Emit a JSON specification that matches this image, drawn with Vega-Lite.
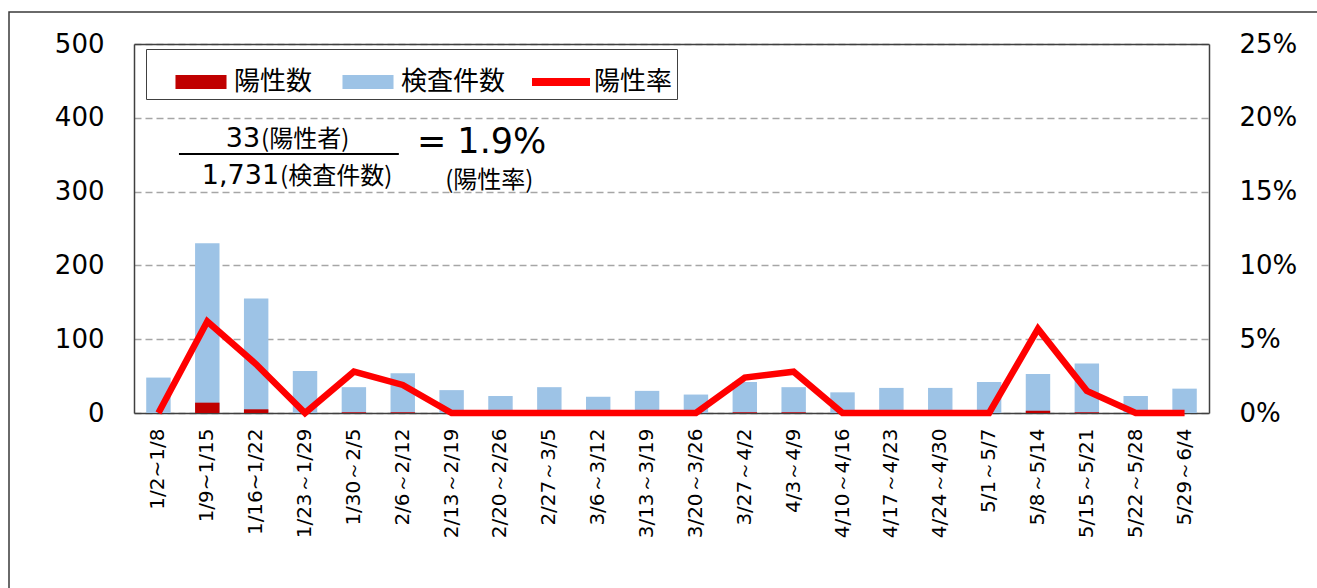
{
  "$schema": "https://vega.github.io/schema/vega-lite/v6.json",
  "width": 1320,
  "height": 600,
  "autosize": {"type": "none"},
  "padding": {"left": 9, "top": 12, "right": 0, "bottom": 0},
  "background": "white",
  "config": {
    "view": {"stroke": "#3a3a3a", "strokeWidth": 1.5},
    "font": "DejaVu Sans",
    "axis": {
      "labelFont": "DejaVu Sans",
      "labelColor": "#000000",
      "ticks": false,
      "title": null,
      "domainColor": "#404040",
      "domainWidth": 1.5,
      "grid": false
    }
  },
  "data": {
    "values": [
      {"week": "1/2~1/8", "tests": 48, "positives": 0, "rate": 0},
      {"week": "1/9~1/15", "tests": 230, "positives": 14, "rate": 0.062},
      {"week": "1/16~1/22", "tests": 155, "positives": 5, "rate": 0.033},
      {"week": "1/23～1/29", "tests": 57, "positives": 0, "rate": 0},
      {"week": "1/30～2/5", "tests": 35, "positives": 1, "rate": 0.028},
      {"week": "2/6～2/12", "tests": 54, "positives": 1, "rate": 0.019},
      {"week": "2/13～2/19", "tests": 31, "positives": 0, "rate": 0},
      {"week": "2/20～2/26", "tests": 23, "positives": 0, "rate": 0},
      {"week": "2/27～3/5", "tests": 35, "positives": 0, "rate": 0},
      {"week": "3/6～3/12", "tests": 22, "positives": 0, "rate": 0},
      {"week": "3/13～3/19", "tests": 30, "positives": 0, "rate": 0},
      {"week": "3/20～3/26", "tests": 25, "positives": 0, "rate": 0},
      {"week": "3/27～4/2", "tests": 42, "positives": 1, "rate": 0.024},
      {"week": "4/3～4/9", "tests": 35, "positives": 1, "rate": 0.028},
      {"week": "4/10～4/16", "tests": 28, "positives": 0, "rate": 0},
      {"week": "4/17～4/23", "tests": 34, "positives": 0, "rate": 0},
      {"week": "4/24～4/30", "tests": 34, "positives": 0, "rate": 0},
      {"week": "5/1～5/7", "tests": 42, "positives": 0, "rate": 0},
      {"week": "5/8～5/14", "tests": 53, "positives": 3, "rate": 0.057},
      {"week": "5/15～5/21", "tests": 67, "positives": 1, "rate": 0.015},
      {"week": "5/22～5/28", "tests": 23, "positives": 0, "rate": 0},
      {"week": "5/29～6/4", "tests": 33, "positives": 0, "rate": 0}
    ]
  },
  "layer": [
    {
      "layer": [
        {
          "layer": [
            {
              "mark": {"type": "bar", "color": "#9DC3E6"},
              "encoding": {
                "x": {
                  "field": "week",
                  "type": "nominal",
                  "sort": null,
                  "scale": {"range": [125, 1200], "paddingInner": 0.5, "paddingOuter": 0.25},
                  "axis": {
                    "orient": "bottom",
                    "offset": -199,
                    "labelAngle": -90,
                    "labelPadding": 15,
                    "labelFontSize": 20
                  }
                },
                "y": {
                  "field": "tests",
                  "type": "quantitative",
                  "scale": {"domain": [0, 500], "range": [401, 32], "nice": false, "zero": true},
                  "axis": {
                    "orient": "left",
                    "offset": -125,
                    "values": [0, 100, 200, 300, 400, 500],
                    "grid": true,
                    "gridDash": [7, 4],
                    "gridColor": "#a6a6a6",
                    "gridWidth": 1.5,
                    "labelPadding": 30,
                    "labelFontSize": 26
                  }
                },
                "color": {
                  "datum": "検査件数",
                  "type": "nominal",
                  "scale": {
                    "domain": ["陽性数", "検査件数", "陽性率"],
                    "range": ["#C00000", "#9DC3E6", "#FF0000"]
                  },
                  "legend": {
                    "orient": "none",
                    "legendX": 137,
                    "legendY": 37,
                    "direction": "horizontal",
                    "columns": 3,
                    "title": null,
                    "strokeColor": "#404040",
                    "fillColor": "white",
                    "padding": 4,
                    "symbolOffset": 22,
                    "labelFont": "Noto Sans CJK JP",
                    "labelFontSize": 26,
                    "labelColor": "#000000",
                    "labelOffset": 4,
                    "columnPadding": 4,
                    "labelExpr": "datum.value === '陽性率' ? datum.label + '\u2002' : datum.label",
                    "symbolSize": 3364,
                    "symbolType": "M-0.88,-0.24H0.88V0.24H-0.88Z",
                    "symbolStrokeWidth": 0,
                    "encode": {
                      "symbols": {
                        "update": {
                          "shape": {"signal": "datum.value === '陽性率' ? 'M-1,-0.14H1V0.14H-1Z' : 'M-0.88,-0.24H0.88V0.24H-0.88Z'"},
                          "fill": {"scale": "color", "field": "value"},
                          "fillOpacity": {"value": 1},
                          "opacity": {"value": 1},
                          "strokeWidth": {"value": 0}
                        }
                      }
                    }
                  }
                }
              }
            },
            {
              "mark": {"type": "bar", "color": "#C00000"},
              "encoding": {
                "x": {"field": "week", "type": "nominal", "sort": null},
                "y": {"field": "positives", "type": "quantitative"},
                "color": {"datum": "陽性数", "type": "nominal"}
              }
            }
          ]
        },
        {
          "mark": {"type": "line", "strokeWidth": 6.5, "strokeJoin": "miter"},
          "encoding": {
            "x": {"field": "week", "type": "nominal", "sort": null},
            "y": {
              "field": "rate",
              "type": "quantitative",
              "scale": {"domain": [0, 0.25], "range": [401, 32], "nice": false},
              "axis": {
                "orient": "right",
                "offset": -120,
                "values": [0, 0.05, 0.1, 0.15, 0.2, 0.25],
                "format": ".0%",
                "labelPadding": 30,
                "labelFontSize": 26
              }
            },
            "color": {"datum": "陽性率", "type": "nominal"}
          }
        }
      ],
      "resolve": {"scale": {"y": "independent"}, "axis": {"y": "independent"}}
    },
    {
      "data": {"values": [{}]},
      "layer": [
        {
          "mark": {"type": "rule", "color": "#000000", "strokeWidth": 2},
          "encoding": {
            "x": {
              "datum": 0.92,
              "type": "quantitative",
              "scale": {"domain": [0, 22], "range": [125, 1200], "nice": false, "zero": false},
              "axis": {"orient": "top", "offset": -32, "labels": false, "grid": false, "ticks": false}
            },
            "x2": {"datum": 5.42},
            "y": {
              "datum": 351,
              "type": "quantitative",
              "scale": {"domain": [0, 500], "range": [401, 32], "nice": false},
              "axis": null
            }
          }
        },
        {
          "mark": {"type": "text", "align": "right", "baseline": "alphabetic", "font": "DejaVu Sans", "fontSize": 27, "color": "#000000"},
          "encoding": {
            "x": {"datum": 2.58, "type": "quantitative"},
            "y": {"datum": 360, "type": "quantitative"},
            "text": {"value": "33"}
          }
        },
        {
          "mark": {"type": "text", "align": "left", "baseline": "alphabetic", "font": "Noto Sans CJK JP", "fontSize": 24, "color": "#000000"},
          "encoding": {
            "x": {"datum": 2.6, "type": "quantitative"},
            "y": {"datum": 360, "type": "quantitative"},
            "text": {"value": "(陽性者)"}
          }
        },
        {
          "mark": {"type": "text", "align": "right", "baseline": "alphabetic", "font": "DejaVu Sans", "fontSize": 27, "color": "#000000"},
          "encoding": {
            "x": {"datum": 2.97, "type": "quantitative"},
            "y": {"datum": 310, "type": "quantitative"},
            "text": {"value": "1,731"}
          }
        },
        {
          "mark": {"type": "text", "align": "left", "baseline": "alphabetic", "font": "Noto Sans CJK JP", "fontSize": 24, "color": "#000000"},
          "encoding": {
            "x": {"datum": 2.99, "type": "quantitative"},
            "y": {"datum": 310, "type": "quantitative"},
            "text": {"value": "(検査件数)"}
          }
        },
        {
          "mark": {"type": "text", "align": "left", "baseline": "alphabetic", "font": "DejaVu Sans", "fontSize": 35, "color": "#000000"},
          "encoding": {
            "x": {"datum": 5.79, "type": "quantitative"},
            "y": {"datum": 352, "type": "quantitative"},
            "text": {"value": "= 1.9%"}
          }
        },
        {
          "mark": {"type": "text", "align": "left", "baseline": "alphabetic", "font": "Noto Sans CJK JP", "fontSize": 24, "color": "#000000"},
          "encoding": {
            "x": {"datum": 6.37, "type": "quantitative"},
            "y": {"datum": 305, "type": "quantitative"},
            "text": {"value": "(陽性率)"}
          }
        }
      ]
    }
  ],
  "resolve": {"scale": {"x": "independent", "y": "independent"}, "axis": {"x": "independent", "y": "independent"}}
}
